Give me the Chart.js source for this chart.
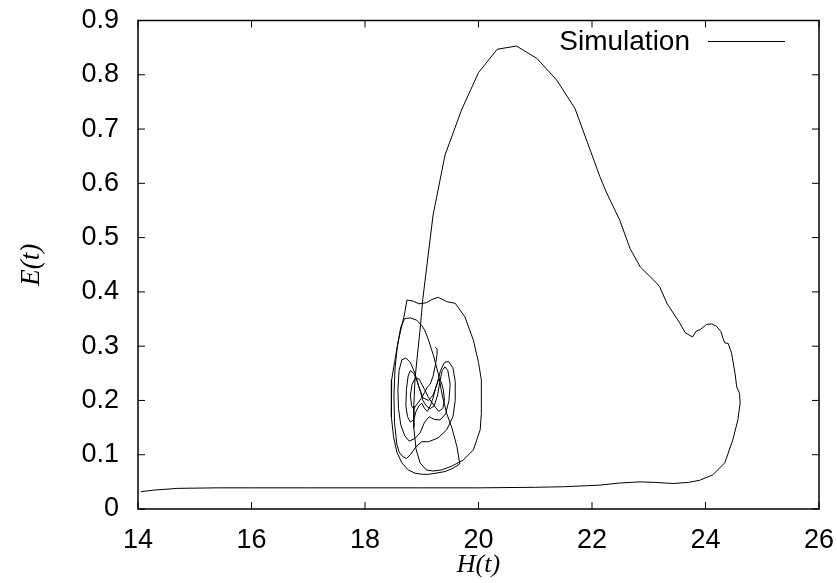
<!DOCTYPE html>
<html>
<head>
<meta charset="utf-8">
<script src="https://cdn.jsdelivr.net/npm/chart.js@4.4.1/dist/chart.umd.min.js"></script>
<style>
  html, body { margin: 0; padding: 0; background: #fff; }
</style>
</head>
<body>
<canvas id="phaseChart" width="837" height="583"></canvas>
<script>
// axis ticks
const xTicks = [14, 16, 18, 20, 22, 24, 26];
const yTicks = [0, 0.1, 0.2, 0.3, 0.4, 0.5, 0.6, 0.7, 0.8, 0.9];

// long excursion: base line, right shoulder, big peak
const runH = [14.05, 14.3, 14.7, 15.4, 16, 17, 18, 19, 20, 21, 21.5, 22.14, 22.5, 22.85, 23.1, 23.43, 23.7, 23.9, 24.13, 24.34,
  24.48, 24.57, 24.61, 24.60, 24.55, 24.52, 24.46, 24.40, 24.34, 24.31, 24.27, 24.19, 24.11, 24.02, 23.90, 23.84, 23.77, 23.64,
  23.55, 23.32, 23.19, 23.14, 22.85, 22.67, 22.49, 22.26, 22.14, 21.70, 21.38, 21.03, 20.67, 20.33, 20.00, 19.70, 19.41, 19.20, 19.02];
const runE = [0.032, 0.035, 0.038, 0.039, 0.039, 0.039, 0.039, 0.039, 0.039, 0.040, 0.041, 0.044, 0.048, 0.050, 0.049, 0.047, 0.049, 0.053, 0.063, 0.085,
  0.127, 0.164, 0.195, 0.213, 0.225, 0.25, 0.287, 0.305, 0.306, 0.314, 0.327, 0.337, 0.341, 0.340, 0.330, 0.328, 0.317, 0.325,
  0.342, 0.379, 0.410, 0.416, 0.446, 0.480, 0.532, 0.582, 0.612, 0.738, 0.790, 0.830, 0.853, 0.847, 0.804, 0.735, 0.652, 0.542, 0.388];

// outer loop around the focus
const outerH = [18.97, 18.92, 18.88, 18.86, 18.86, 18.9, 18.97, 19.08, 19.2, 19.35, 19.53, 19.73, 19.91, 20.03, 20.05, 20.05, 20.0, 19.91,
  19.76, 19.59, 19.44, 19.29, 19.18, 19.08, 18.95, 18.85, 18.74, 18.70, 18.59, 18.52, 18.47, 18.46, 18.47, 18.5, 18.56, 18.65, 18.76,
  18.88, 19.0, 19.12, 19.25, 19.41, 19.55, 19.67];
const outerE = [0.33, 0.28, 0.238, 0.19, 0.15, 0.11, 0.085, 0.072, 0.07, 0.072, 0.079, 0.09, 0.109, 0.146, 0.176, 0.238, 0.27, 0.311,
  0.354, 0.379, 0.382, 0.39, 0.386, 0.38, 0.378, 0.383, 0.385, 0.361, 0.311, 0.27, 0.238, 0.2, 0.17, 0.135, 0.105, 0.085, 0.072,
  0.066, 0.064, 0.064, 0.066, 0.069, 0.075, 0.083];

// second, tilted loop
const midH = [19.62, 19.53, 19.44, 19.36, 19.29, 19.2, 19.12, 19.05, 19.0, 18.91, 18.8, 18.70, 18.63, 18.57, 18.53, 18.51, 18.52, 18.56,
  18.6, 18.66, 18.73, 18.8, 18.9, 19.0, 19.12, 19.29, 19.44, 19.55];
const midE = [0.115, 0.15, 0.176, 0.21, 0.25, 0.285, 0.311, 0.33, 0.338, 0.348, 0.352, 0.351, 0.335, 0.3, 0.26, 0.21, 0.16, 0.12,
  0.105, 0.097, 0.093, 0.1, 0.115, 0.124, 0.124, 0.131, 0.146, 0.17];

// inner tangle, ends in the small hook
const innerH = [19.59, 19.59, 19.55, 19.47, 19.4, 19.33, 19.27, 19.2, 19.12, 19.02, 18.95, 18.88, 18.8, 18.72, 18.65, 18.6, 18.58, 18.59,
  18.63, 18.7, 18.78, 18.88, 18.97, 19.05, 19.13, 19.22, 19.32, 19.42, 19.48, 19.5, 19.46, 19.41, 19.36, 19.32, 19.28, 19.22, 19.15,
  19.08, 19.02, 18.98, 18.92, 18.86, 18.8, 18.76, 18.73, 18.72, 18.75, 18.8, 18.86, 18.9, 18.95, 19.0, 19.05, 19.1, 19.15, 19.2,
  19.25, 19.3, 19.34, 19.38, 19.4, 19.37, 19.3, 19.22, 19.12, 19.05, 19.0, 18.95, 18.88, 18.83, 18.8, 18.82, 18.86, 18.93, 19.0,
  19.05, 19.1, 19.15, 19.2, 19.24, 19.27, 19.27, 19.24];
const innerE = [0.2, 0.235, 0.26, 0.272, 0.27, 0.255, 0.23, 0.21, 0.2, 0.205, 0.225, 0.25, 0.27, 0.278, 0.275, 0.255, 0.22, 0.185,
  0.155, 0.135, 0.125, 0.13, 0.14, 0.16, 0.17, 0.165, 0.164, 0.175, 0.2, 0.23, 0.255, 0.262, 0.255, 0.235, 0.21, 0.19, 0.185,
  0.19, 0.2, 0.215, 0.235, 0.25, 0.255, 0.245, 0.22, 0.19, 0.17, 0.16, 0.165, 0.18, 0.19, 0.195, 0.185, 0.18, 0.19, 0.205,
  0.225, 0.24, 0.235, 0.22, 0.2, 0.185, 0.18, 0.19, 0.205, 0.22, 0.23, 0.24, 0.24, 0.23, 0.21, 0.19, 0.185, 0.195, 0.205,
  0.215, 0.225, 0.23, 0.245, 0.265, 0.285, 0.295, 0.298];

const allH = [...runH, ...outerH, ...midH, ...innerH];
const allE = [...runE, ...outerE, ...midE, ...innerE];
const points = allH.map((h, i) => ({ x: h, y: allE[i] }));

const sans = '"Liberation Sans", Helvetica, Arial, sans-serif';
const serif = '"Liberation Serif", "Times New Roman", serif';

// gnuplot-like box with inward ticks and key in the top right corner
const frame = {
  id: 'frame',
  afterDraw(chart) {
    const { ctx, chartArea: a, scales: { x, y } } = chart;
    ctx.save();
    ctx.strokeStyle = '#000';
    ctx.lineWidth = 1;
    ctx.beginPath();
    xTicks.forEach(v => {
      const px = x.getPixelForValue(v);
      ctx.moveTo(px, a.bottom); ctx.lineTo(px, a.bottom - 7);
      ctx.moveTo(px, a.top); ctx.lineTo(px, a.top + 7);
    });
    yTicks.forEach(v => {
      const py = y.getPixelForValue(v);
      ctx.moveTo(a.left, py); ctx.lineTo(a.left + 7, py);
      ctx.moveTo(a.right, py); ctx.lineTo(a.right - 7, py);
    });
    ctx.stroke();
    ctx.lineWidth = 1.5;
    ctx.strokeRect(a.left, a.top, a.right - a.left, a.bottom - a.top);

    ctx.fillStyle = '#000';
    ctx.font = '28px ' + sans;
    ctx.textAlign = 'right';
    ctx.textBaseline = 'middle';
    ctx.fillText('Simulation', a.right - 129, a.top + 22);
    ctx.lineWidth = 1;
    ctx.beginPath();
    ctx.moveTo(a.right - 111, a.top + 21);
    ctx.lineTo(a.right - 34, a.top + 21);
    ctx.stroke();
    ctx.restore();
  }
};

const ctx = document.getElementById('phaseChart').getContext('2d');

const chart = new Chart(ctx, {
  type: 'scatter',
  data: {
    datasets: [{
      label: 'Simulation',
      data: points,
      showLine: true,
      borderColor: '#000',
      borderWidth: 1,
      pointRadius: 0,
      tension: 0,
      fill: false
    }]
  },
  options: {
    responsive: false,
    animation: false,
    devicePixelRatio: 1,
    layout: {
      padding: { top: 20.5, right: 18, left: 0, bottom: 0 }
    },
    plugins: {
      legend: { display: false },
      tooltip: { enabled: false }
    },
    scales: {
      x: {
        type: 'linear',
        min: 14,
        max: 26,
        afterBuildTicks: s => { s.ticks = xTicks.map(v => ({ value: v })); },
        afterFit: s => { s.height = 74; s.paddingLeft = 0; s.paddingRight = 0; },
        grid: { display: false, drawTicks: false },
        border: { display: false },
        ticks: { color: '#000', padding: 15, maxRotation: 0, font: { family: sans, size: 27 } },
        title: {
          display: true,
          text: 'H(t)',
          color: '#000',
          padding: { top: 0, bottom: 2 },
          font: { family: serif, style: 'italic', size: 26 }
        }
      },
      y: {
        type: 'linear',
        min: 0,
        max: 0.9,
        afterBuildTicks: s => { s.ticks = yTicks.map(v => ({ value: v })); },
        afterFit: s => { s.width = 138; s.paddingTop = 0; s.paddingBottom = 0; },
        grid: { display: false, drawTicks: false },
        border: { display: false },
        ticks: { color: '#000', padding: 19, font: { family: sans, size: 27 } },
        title: {
          display: true,
          text: 'E(t)',
          color: '#000',
          padding: { top: 16, bottom: 0 },
          font: { family: serif, style: 'italic', size: 27 }
        }
      }
    }
  },
  plugins: [frame]
});
</script>
</body>
</html>
